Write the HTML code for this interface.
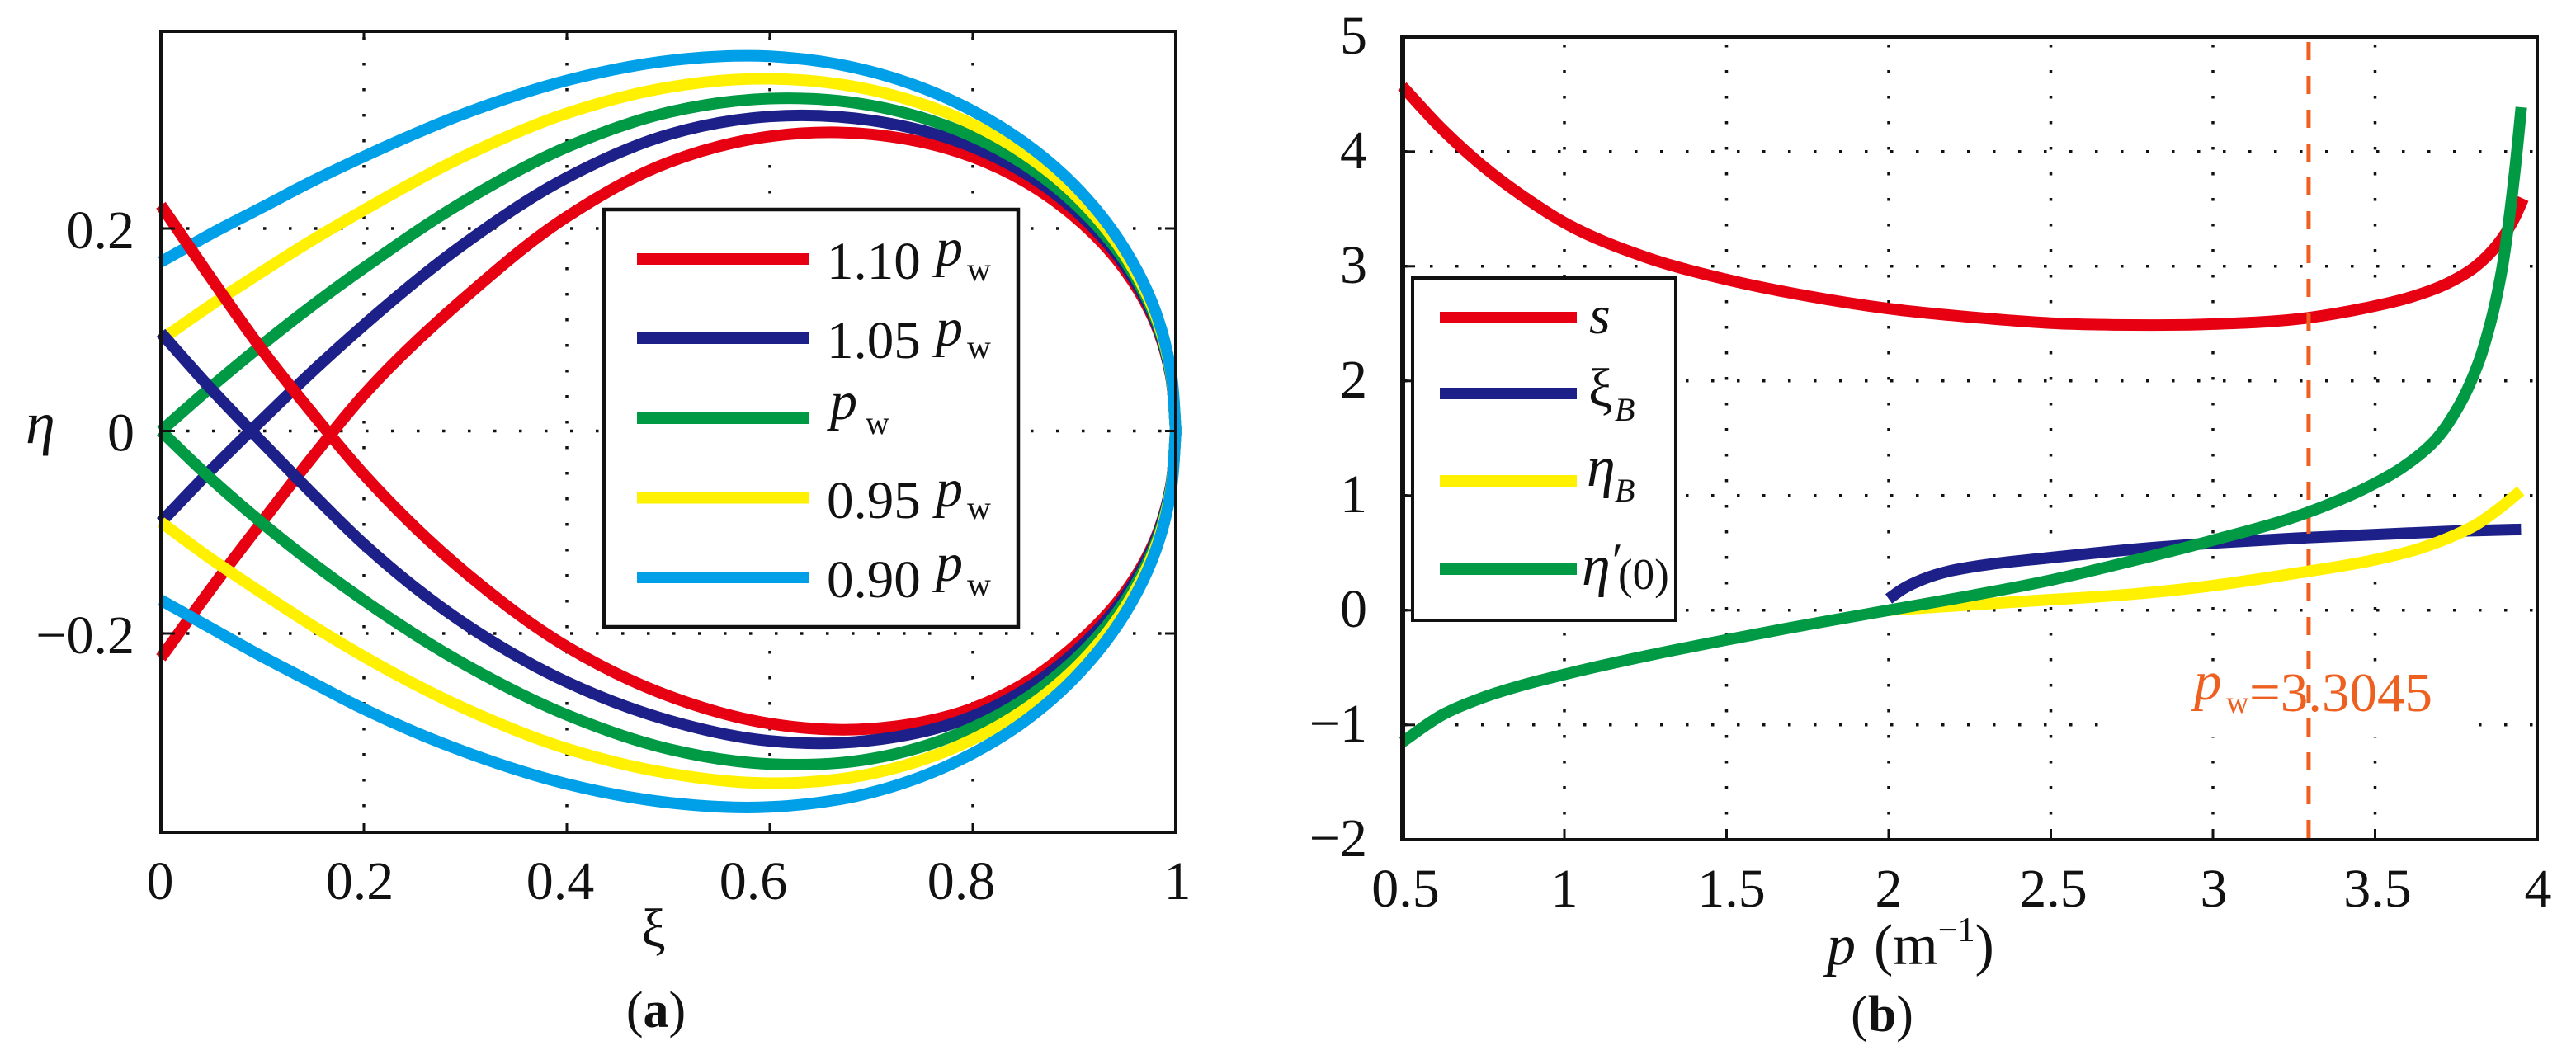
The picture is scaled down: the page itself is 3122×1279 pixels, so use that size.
<!DOCTYPE html>
<html lang="en">
<head>
<meta charset="utf-8">
<title>Curves and parameters versus p</title>
<style>
html,body{margin:0;padding:0;background:#fff;width:3122px;height:1279px;overflow:hidden}
svg{display:block}
text{font-family:"Liberation Serif","DejaVu Serif",serif;fill:#111}
.i{font-style:italic}
</style>
</head>
<body>
<svg id="fig" xmlns="http://www.w3.org/2000/svg" width="3122" height="1279" viewBox="0 0 3122 1279">
  <rect width="3122" height="1279" fill="#fff"/>
  <g id="a-grid"></g>
  <g id="a-series"></g>
  <g id="a-ticks"></g>
  <rect x="195" y="38" width="1230" height="971" fill="none" stroke="#111" stroke-width="4"/>
  <g id="a-labels" font-size="66"></g>
  <text class="i" x="31" y="537" font-size="72">η</text>
  <text x="792" y="1147" font-size="66" text-anchor="middle">ξ</text>
  <text x="795" y="1245" font-size="62" text-anchor="middle">(<tspan font-weight="bold">a</tspan>)</text>

  <g>
    <rect x="732" y="254" width="502" height="506" fill="#fff" stroke="#111" stroke-width="4.5"/>
    <g>
      <line x1="772" x2="981" y1="314" y2="314" stroke="#e60012" stroke-width="14"/>
      <text x="1002" y="338" font-size="65">1.10</text><text class="i" x="1134" y="322" font-size="66">p</text><text x="1172" y="340" font-size="40">w</text>
    </g>
    <g>
      <line x1="772" x2="981" y1="410" y2="410" stroke="#1d2088" stroke-width="14"/>
      <text x="1002" y="434" font-size="65">1.05</text><text class="i" x="1134" y="419" font-size="66">p</text><text x="1172" y="434" font-size="40">w</text>
    </g>
    <g>
      <line x1="772" x2="981" y1="507" y2="507" stroke="#009944" stroke-width="14"/>
      <text class="i" x="1006" y="508" font-size="66">p</text><text x="1049" y="526" font-size="40">w</text>
    </g>
    <g>
      <line x1="772" x2="981" y1="603.5" y2="603.5" stroke="#fff100" stroke-width="14"/>
      <text x="1002" y="628" font-size="65">0.95</text><text class="i" x="1134" y="614" font-size="66">p</text><text x="1172" y="629" font-size="40">w</text>
    </g>
    <g>
      <line x1="772" x2="981" y1="700" y2="700" stroke="#00a0e9" stroke-width="14"/>
      <text x="1002" y="724" font-size="65">0.90</text><text class="i" x="1134" y="704" font-size="66">p</text><text x="1172" y="722" font-size="40">w</text>
    </g>
  </g>

  <g id="b-grid"></g>
  <rect x="2544" y="805" width="460" height="88" fill="#fff"/>
  <g id="b-series-under"></g>
  <line id="pw-line" stroke="#ef5f1f" stroke-width="5" stroke-dasharray="22 19"/>
  <g id="b-series-over"></g>
  <g id="b-ticks"></g>
  <rect x="1700" y="45" width="1375" height="973" fill="none" stroke="#111" stroke-width="4"/>
  <line x1="1700" x2="1700" y1="43" y2="1020" stroke="#111" stroke-width="6"/>
  <g id="b-labels" font-size="66"></g>
  <text x="2214" y="1169" font-size="70"><tspan class="i" font-style="italic">p</tspan><tspan dx="22">(m</tspan><tspan font-size="42" dy="-28">−1</tspan><tspan dy="28">)</tspan></text>
  <text x="2281" y="1250" font-size="62" text-anchor="middle">(<tspan font-weight="bold">b</tspan>)</text>

  <g>
    <text class="i" x="2659" y="848" font-size="67" style="fill:#ee6020">p</text>
    <text x="2698" y="864" font-size="38" style="fill:#ee6020">w</text>
    <text x="2726" y="862" font-size="67" style="fill:#ee6020">=3.3045</text>
  </g>

  <g>
    <rect x="1712" y="337" width="319" height="415" fill="#fff" stroke="#111" stroke-width="4"/>
    <g>
      <line x1="1745" x2="1911" y1="385" y2="385" stroke="#e60012" stroke-width="14"/>
      <text class="i" x="1926" y="404" font-size="66">s</text>
    </g>
    <g>
      <line x1="1745" x2="1911" y1="477" y2="477" stroke="#1d2088" stroke-width="14"/>
      <text x="1925" y="492" font-size="66">ξ</text><text class="i" x="1957" y="510" font-size="40">B</text>
    </g>
    <g>
      <line x1="1745" x2="1911" y1="583" y2="583" stroke="#fff100" stroke-width="14"/>
      <text class="i" x="1923" y="589" font-size="70">η</text><text class="i" x="1957" y="608" font-size="40">B</text>
    </g>
    <g>
      <line x1="1745" x2="1911" y1="690" y2="690" stroke="#009944" stroke-width="14"/>
      <text class="i" x="1917" y="709" font-size="70">η</text><text class="i" x="1950" y="700" font-size="60">′</text><text x="1961" y="714" font-size="53">(0)</text>
    </g>
  </g>
</svg>
<script>
// ---- Panel (a) data ----
const xiValues = [0, 0.05, 0.1, 0.15, 0.2, 0.3, 0.4, 0.5, 0.6, 0.7, 0.8, 0.85, 0.9, 0.95, 0.98, 0.995, 1];
const upper110 = [-0.224, -0.155, -0.0892, -0.0249, 0.0358, 0.1322, 0.2115, 0.2652, 0.291, 0.293, 0.2706, 0.2471, 0.2119, 0.1588, 0.106, 0.0548, 0];
const upper105 = [-0.09, -0.038, 0.0114, 0.0595, 0.1046, 0.1857, 0.2502, 0.2927, 0.3106, 0.3067, 0.2804, 0.2556, 0.2188, 0.1632, 0.1082, 0.0555, 0];
const upper100 = [0, 0.0439, 0.0854, 0.1245, 0.161, 0.2276, 0.2804, 0.3147, 0.3283, 0.3215, 0.2907, 0.2638, 0.2251, 0.1677, 0.111, 0.0569, 0];
const upper095 = [0.09, 0.1248, 0.1575, 0.189, 0.2182, 0.2719, 0.3137, 0.3394, 0.3479, 0.3368, 0.3028, 0.2742, 0.234, 0.1733, 0.1145, 0.0587, 0];
const upper090 = [0.167, 0.195, 0.221, 0.2471, 0.271, 0.3138, 0.3462, 0.3656, 0.37, 0.3549, 0.3162, 0.2854, 0.2428, 0.1793, 0.1181, 0.0604, 0];
const lower110 = [0.223, 0.1501, 0.0797, 0.0166, -0.0429, -0.1397, -0.213, -0.2616, -0.289, -0.2941, -0.2737, -0.2498, -0.2125, -0.1592, -0.1063, -0.0549, 0];
const lower105 = [0.097, 0.0409, -0.0114, -0.0627, -0.1118, -0.1908, -0.2479, -0.2857, -0.3061, -0.3056, -0.2817, -0.2564, -0.2191, -0.1632, -0.1082, -0.0556, 0];
const lower100 = [0, -0.0478, -0.0911, -0.1309, -0.1673, -0.2309, -0.2804, -0.314, -0.3289, -0.3237, -0.2929, -0.2657, -0.2264, -0.1681, -0.1113, -0.0571, 0];
const lower095 = [-0.09, -0.1267, -0.1603, -0.1927, -0.2227, -0.2744, -0.3137, -0.338, -0.3479, -0.3385, -0.3045, -0.2758, -0.2353, -0.1742, -0.1148, -0.0588, 0];
const lower090 = [-0.167, -0.195, -0.2229, -0.2489, -0.2746, -0.3171, -0.3486, -0.367, -0.3713, -0.3571, -0.3184, -0.2874, -0.2441, -0.1802, -0.1185, -0.0607, 0];
const xiTicks = [0, 0.2, 0.4, 0.6, 0.8, 1];
const xiTickLabels = ['0', '0.2', '0.4', '0.6', '0.8', '1'];
const etaTicks = [0.2, 0, -0.2];
const etaTickLabels = ['0.2', '0', '−0.2'];

// ---- Panel (b) data ----
const sP = [0.5, 0.625, 0.75, 0.875, 1, 1.25, 1.5, 1.75, 2, 2.28, 2.5, 2.75, 3, 3.3, 3.47, 3.597, 3.724, 3.809, 3.877, 3.927, 3.957];
const sV = [4.57, 4.19, 3.87, 3.605, 3.38, 3.08, 2.885, 2.74, 2.63, 2.55, 2.504, 2.488, 2.496, 2.553, 2.636, 2.72, 2.852, 2.996, 3.188, 3.404, 3.59];
const xiBP = [2.0, 2.046, 2.104, 2.19, 2.25, 2.5, 2.75, 3, 3.25, 3.5, 3.75, 3.95];
const xiBV = [0.099, 0.19, 0.268, 0.343, 0.375, 0.459, 0.53, 0.586, 0.627, 0.66, 0.69, 0.704];
const etaBP = [2, 2.25, 2.5, 2.75, 3, 3.25, 3.5, 3.63, 3.75, 3.809, 3.877, 3.949];
const etaBV = [0, 0.047, 0.092, 0.14, 0.215, 0.32, 0.44, 0.532, 0.66, 0.742, 0.875, 1.04];
const etaPrimeP = [0.5, 0.625, 0.75, 0.875, 1, 1.25, 1.5, 1.75, 2, 2.25, 2.5, 2.75, 3, 3.3, 3.474, 3.584, 3.683, 3.76, 3.819, 3.858, 3.891, 3.912, 3.933, 3.951];
const etaPrimeV = [-1.15, -0.91, -0.76, -0.65, -0.56, -0.4, -0.258, -0.125, 0, 0.125, 0.2625, 0.43, 0.61, 0.861, 1.07, 1.245, 1.475, 1.79, 2.16, 2.53, 2.97, 3.38, 3.883, 4.387];
const pTicks = [0.5, 1, 1.5, 2, 2.5, 3, 3.5, 4];
const pTickLabels = ['0.5', '1', '1.5', '2', '2.5', '3', '3.5', '4'];
const vTicks = [5, 4, 3, 2, 1, 0, -1, -2];
const vTickLabels = ['5', '4', '3', '2', '1', '0', '−1', '−2'];
const pwValue = 3.295;

// ---- Layout constants (label nudges, not data) ----
const xiLabelNudge = [-1, -5, -8, -20, -14, 2];
const pLabelNudge = [4, 0, 6, 0, 3, 1, 3, 1];

// ---- Axis functions ----
function xA(v) { return 195 + 1230 * v; }
function yA(v) { return 522.5 - 1227.5 * v; }
function xB(v) { return 1699.5 + 393 * (v - 0.5); }
function yB(v) { return 739.8 - 139 * v; }

const NS = 'http://www.w3.org/2000/svg';
function make(tag, parent, attrs) {
  const node = document.createElementNS(NS, tag);
  for (const k in attrs) node.setAttribute(k, attrs[k]);
  parent.appendChild(node);
  return node;
}
function smoothPath(pts) {
  const n = pts.length;
  const d = [];
  for (let i = 0; i < n - 1; i++) d.push(Math.hypot(pts[i + 1][0] - pts[i][0], pts[i + 1][1] - pts[i][1]) || 1);
  const t = pts.map(function (p, i) {
    if (i === 0) return [(pts[1][0] - p[0]) / d[0], (pts[1][1] - p[1]) / d[0]];
    if (i === n - 1) return [(p[0] - pts[i - 1][0]) / d[i - 1], (p[1] - pts[i - 1][1]) / d[i - 1]];
    const a = d[i - 1], b = d[i];
    const ux = (p[0] - pts[i - 1][0]) / a, uy = (p[1] - pts[i - 1][1]) / a;
    const vx = (pts[i + 1][0] - p[0]) / b, vy = (pts[i + 1][1] - p[1]) / b;
    const wx = (ux * b + vx * a) / (a + b), wy = (uy * b + vy * a) / (a + b);
    const m = Math.hypot(wx, wy) || 1;
    return [wx / m, wy / m];
  });
  let out = 'M' + pts[0][0].toFixed(1) + ' ' + pts[0][1].toFixed(1);
  for (let i = 0; i < n - 1; i++) {
    const c = d[i] / 3;
    out += 'C' + (pts[i][0] + t[i][0] * c).toFixed(1) + ' ' + (pts[i][1] + t[i][1] * c).toFixed(1) + ' ' +
      (pts[i + 1][0] - t[i + 1][0] * c).toFixed(1) + ' ' + (pts[i + 1][1] - t[i + 1][1] * c).toFixed(1) + ' ' +
      pts[i + 1][0].toFixed(1) + ' ' + pts[i + 1][1].toFixed(1);
  }
  return out;
}
function pointsOf(xs, ys, fx, fy) {
  return xs.map(function (x, i) { return [fx(x), fy(ys[i])]; });
}

// ---- Panel (a) drawing ----
const gridA = document.getElementById('a-grid');
const ticksA = document.getElementById('a-ticks');
const labelsA = document.getElementById('a-labels');
const seriesA = document.getElementById('a-series');

xiTicks.forEach(function (v, i) {
  if (v > 0 && v < 1) {
    const g = make('line', gridA, { x1: xA(v), x2: xA(v), y1: 45, y2: 1005, stroke: '#111', 'stroke-width': 3.5, 'stroke-dasharray': '3.5 27.5' });
    
    
    const t1 = make('line', ticksA, { x1: xA(v), x2: xA(v), y1: 38, y2: 49, stroke: '#111', 'stroke-width': 3 });
    
    
    const t2 = make('line', ticksA, { x1: xA(v), x2: xA(v), y1: 998, y2: 1009, stroke: '#111', 'stroke-width': 3 });
    
    
  }
  const lab = make('text', labelsA, { x: xA(v) + xiLabelNudge[i], y: 1090, 'text-anchor': 'middle' });
  
  
  lab.textContent = xiTickLabels[i];
});
etaTicks.forEach(function (v, i) {
  const g = make('line', gridA, { x1: 195, x2: 1425, y1: yA(v), y2: yA(v), stroke: '#111', 'stroke-width': 3.5, 'stroke-dasharray': '3.5 27.5' });
  
  
  const t1 = make('line', ticksA, { x1: 195, x2: 212, y1: yA(v), y2: yA(v), stroke: '#111', 'stroke-width': 3 });
  
  
  const t2 = make('line', ticksA, { x1: 1412, x2: 1425, y1: yA(v), y2: yA(v), stroke: '#111', 'stroke-width': 3 });
  
  
  const lab = make('text', labelsA, { x: 163, y: yA(v) + 24, 'text-anchor': 'end' });
  
  
  lab.textContent = etaTickLabels[i];
});

const upperBranches = [upper110, upper105, upper100, upper095, upper090];
const lowerBranches = [lower110, lower105, lower100, lower095, lower090];
const branchColors = ['#e60012', '#1d2088', '#009944', '#fff100', '#00a0e9'];
upperBranches.forEach(function (vals, i) {
  const path = make('path', seriesA, { d: smoothPath(pointsOf(xiValues, vals, xA, yA)), fill: 'none', stroke: branchColors[i], 'stroke-width': 14 });
  
  
});
lowerBranches.forEach(function (vals, i) {
  const path = make('path', seriesA, { d: smoothPath(pointsOf(xiValues, vals, xA, yA)), fill: 'none', stroke: branchColors[i], 'stroke-width': 14 });
  
  
});

// ---- Panel (b) drawing ----
const gridB = document.getElementById('b-grid');
const ticksB = document.getElementById('b-ticks');
const labelsB = document.getElementById('b-labels');
const underB = document.getElementById('b-series-under');
const overB = document.getElementById('b-series-over');

pTicks.forEach(function (v, i) {
  if (v > 0.5 && v < 4) {
    const g = make('line', gridB, { x1: xB(v), x2: xB(v), y1: 54, y2: 1010, stroke: '#111', 'stroke-width': 3.5, 'stroke-dasharray': '3.5 27.5' });
    
    
    const t = make('line', ticksB, { x1: xB(v), x2: xB(v), y1: 1005, y2: 1018, stroke: '#111', 'stroke-width': 3 });
    
    
  }
  const lab = make('text', labelsB, { x: xB(v) + pLabelNudge[i], y: 1099, 'text-anchor': 'middle' });
  
  
  lab.textContent = pTickLabels[i];
});
vTicks.forEach(function (v, i) {
  if (v < 5 && v > -2) {
    const g = make('line', gridB, { x1: 1702, x2: 3075, y1: yB(v), y2: yB(v), stroke: '#111', 'stroke-width': 3.5, 'stroke-dasharray': '3.5 27.5' });
    
    
    const t = make('line', ticksB, { x1: 1700, x2: 1715, y1: yB(v), y2: yB(v), stroke: '#111', 'stroke-width': 3 });
    
    
  }
  const lab = make('text', labelsB, { x: 1657, y: yB(v) + 20, 'text-anchor': 'end' });
  
  
  lab.textContent = vTickLabels[i];
});

const pwLine = document.getElementById('pw-line');
pwLine.setAttribute('x1', xB(pwValue));
pwLine.setAttribute('x2', xB(pwValue));
pwLine.setAttribute('y1', 51);
pwLine.setAttribute('y2', 1025);

const sPath = make('path', underB, { d: smoothPath(pointsOf(sP, sV, xB, yB)), fill: 'none', stroke: '#e60012', 'stroke-width': 14 });


const xiPath = make('path', underB, { d: smoothPath(pointsOf(xiBP, xiBV, xB, yB)), fill: 'none', stroke: '#1d2088', 'stroke-width': 14 });


const etaPath = make('path', overB, { d: smoothPath(pointsOf(etaBP, etaBV, xB, yB)), fill: 'none', stroke: '#fff100', 'stroke-width': 14 });


const primePath = make('path', overB, { d: smoothPath(pointsOf(etaPrimeP, etaPrimeV, xB, yB)), fill: 'none', stroke: '#009944', 'stroke-width': 14 });


</script>
</body>
</html>
